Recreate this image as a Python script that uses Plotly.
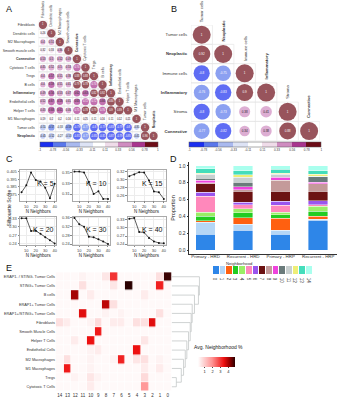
import numpy as np
import plotly.graph_objects as go

W, H = 339, 400
def xd(a, b): return [a / W, b / W]
def yd(top, bot): return [1 - bot / H, 1 - top / H]

# ---------------- DATA ----------------
A_rows = ["Fibroblasts", "Dendritic cells", "M2 Macrophages", "Smooth muscle cells", "Connective",
          "Cytotoxic T cells", "Tregs", "B cells", "Inflammatory", "Endothelial cells",
          "Helper T cells", "M1 Macrophages", "Tumor cells", "Neoplastic"]
A_corr = [
    [1],
    [0.26, 1],
    [0.40, 0.51, 1],
    [0.32, 0.33, 0.36, 1],
    [0.53, 0.50, 0.52, 0.49, 1],
    [0.45, 0.52, 0.50, 0.53, 0.74, 1],
    [0.40, 0.57, 0.51, 0.38, 0.88, 0.88, 1],
    [0.40, 0.59, 0.51, 0.41, 0.79, 0.78, 0.74, 1],
    [0.49, 0.56, 0.53, 0.47, 0.62, 0.63, 0.82, 0.92, 1],
    [0.52, 0.67, 0.58, 0.41, 0.63, 0.72, 0.72, 0.66, 0.84, 1],
    [0.43, 0.68, 0.61, 0.46, 0.75, 0.78, 0.79, 0.76, 0.90, 0.89, 1],
    [0.19, 0.20, 0.20, 0.16, 0.11, 0.25, 0.11, 0.16, 0.11, 0.12, 0.21, 1],
    [-0.51, -0.57, -0.33, -0.59, -0.79, -0.77, -0.80, -0.79, -0.83, -0.79, -0.80, -0.35, 1],
    [-0.45, -0.52, -0.27, -0.53, -0.81, -0.77, -0.85, -0.81, -0.87, -0.79, -0.85, -0.41, 0.96, 1],
]
B_rows = ["Tumor cells", "Neoplastic", "Immune cells", "Inflammatory", "Stroma", "Connective"]
B_corr = [
    [1],
    [0.92, 1],
    [-0.80, -0.75, 1],
    [-0.76, -0.83, 0.90, 1],
    [-0.80, -0.73, 0.38, 0.41, 1],
    [-0.77, -0.82, 0.34, 0.38, 0.88, 1],
]
bold_labels = {"Connective", "Inflammatory", "Neoplastic"}
corr_ticks = [-1, -0.78, -0.56, -0.33, -0.11, 0.11, 0.33, 0.56, 0.78, 1]
corr_colors = ["#1b2ff0", "#5a77eb", "#a9b9ef", "#dde3f5", "#ffffff",
               "#efdce9", "#cf8cc0", "#a8358e", "#6c0c17"]

n_neighbors = [5, 10, 15, 20, 25, 30, 35, 40]
K_values = [5, 10, 15, 20, 30, 40]
silhouette = {
    5: [0.378, 0.387, 0.404, 0.394, 0.392, 0.384, 0.370, 0.389],
    10: [0.3515, 0.3515, 0.350, 0.332, 0.310, 0.315, 0.301, 0.301],
    15: [0.309, 0.313, 0.319, 0.318, 0.298, 0.270, 0.268, 0.251],
    20: [0.330, 0.330, 0.285, 0.286, 0.275, 0.263, 0.252, 0.241],
    30: [0.360, 0.331, 0.320, 0.274, 0.271, 0.262, 0.252, 0.240],
    40: [0.334, 0.337, 0.285, 0.283, 0.263, 0.250, 0.244, 0.243],
}
sil_yticks = {
    5: [0.375, 0.385, 0.395, 0.405],
    10: [0.31, 0.33, 0.35],
    15: [0.26, 0.28, 0.30, 0.32],
    20: [0.24, 0.27, 0.30, 0.33],
    30: [0.24, 0.28, 0.32, 0.36],
    40: [0.24, 0.27, 0.30, 0.33],
}
sil_yrange = {5: [0.367, 0.407], 10: [0.298, 0.354], 15: [0.247, 0.324],
              20: [0.235, 0.335], 30: [0.235, 0.365], 40: [0.236, 0.341]}

D_groups = ["Primary - HRD", "Recurrent - HRD", "Primary - HRP", "Recurrent - HRP"]
neighborhoods = [str(i) for i in range(15)]
nb_colors = ["#2e86e8", "#b4d6f6", "#ff6010", "#22cc22", "#9aee66", "#ff88bb", "#9955ee",
             "#6b1212", "#c49a9a", "#ee44dd", "#6a7b7b", "#c8d0d0", "#eeee77", "#44ddbb", "#aaffee"]
D_props = {
    "Primary - HRD":   [0.190, 0.140, 0.020, 0.050, 0.050, 0.190, 0.046, 0.098, 0.012, 0.034, 0.020, 0.050, 0.014, 0.051, 0.035],
    "Recurrent - HRD": [0.235, 0.071, 0.078, 0.059, 0.047, 0.047, 0.032, 0.129, 0.020, 0.035, 0.051, 0.059, 0.031, 0.046, 0.060],
    "Primary - HRP":   [0.190, 0.045, 0.145, 0.040, 0.030, 0.080, 0.050, 0.118, 0.132, 0.033, 0.012, 0.025, 0.014, 0.046, 0.040],
    "Recurrent - HRP": [0.353, 0.012, 0.035, 0.059, 0.061, 0.017, 0.051, 0.110, 0.086, 0.020, 0.067, 0.004, 0.025, 0.040, 0.060],
}

E_rows = ["ERAP1- / STING- Tumor Cells", "STING+ Tumor Cells", "B cells", "ERAP1+ Tumor Cells",
          "ERAP1+/STING+ Tumor Cells", "Fibroblasts", "Smooth Muscle Cells", "Helper T Cells",
          "Endothelial Cells", "M2 Macrophages", "M1 Macrophages", "Tregs", "Cytotoxic T Cells"]
E_cols = ["14", "13", "12", "11", "10", "9", "8", "7", "6", "5", "4", "3", "2", "1", "0"]
E_vals = [
    [0.2, 0.2, 0.2, 0.3, 0.2, 0.2, 0.5, 3.0, 0.2, 0.2, 0.2, 0.2, 0.2, 0.6, 4.7],
    [0.2, 0.2, 0.2, 0.6, 0.2, 0.2, 0.2, 0.5, 0.2, 4.8, 0.2, 0.2, 0.2, 3.2, 0.2],
    [0.2, 0.2, 4.0, 0.2, 0.4, 0.2, 0.2, 0.2, 0.2, 0.2, 0.2, 0.4, 0.2, 0.2, 0.2],
    [0.2, 0.2, 0.2, 0.2, 0.2, 0.2, 3.8, 0.6, 0.2, 0.2, 0.2, 0.2, 0.2, 0.2, 0.2],
    [0.2, 0.2, 0.2, 3.5, 0.2, 0.2, 0.3, 0.2, 0.3, 0.2, 0.2, 0.2, 0.2, 0.6, 0.2],
    [0.6, 0.4, 0.2, 0.2, 0.3, 0.7, 0.2, 0.4, 0.4, 0.2, 0.6, 0.6, 3.5, 0.2, 0.2],
    [0.2, 0.2, 0.2, 0.2, 0.2, 3.3, 0.2, 0.2, 0.2, 0.2, 0.2, 0.2, 0.2, 0.2, 0.2],
    [0.2, 0.2, 0.4, 0.2, 3.4, 0.2, 0.2, 0.2, 0.2, 0.2, 0.2, 0.5, 0.2, 0.2, 0.2],
    [0.2, 0.2, 0.2, 0.2, 0.3, 0.4, 0.2, 0.2, 0.2, 0.2, 3.4, 0.2, 0.2, 0.2, 0.2],
    [0.2, 0.6, 0.2, 0.2, 0.3, 0.2, 0.2, 0.3, 3.2, 0.2, 0.5, 0.6, 0.2, 0.3, 0.2],
    [0.2, 3.3, 0.2, 0.2, 0.3, 0.2, 0.2, 0.2, 0.2, 0.2, 0.2, 0.4, 0.2, 0.4, 0.2],
    [0.2, 0.2, 0.3, 0.2, 0.5, 0.3, 0.2, 0.2, 0.2, 0.2, 0.2, 0.7, 0.2, 0.2, 0.2],
    [0.2, 0.2, 0.2, 0.2, 0.4, 0.2, 0.2, 0.2, 0.2, 0.2, 0.2, 1.8, 0.2, 0.2, 0.2],
]
# caterpillar dendrogram merge heights (bottom pair first)
dend_heights = [4.7, 9.7, 12.0, 13.7, 15.3, 17.0, 18.7, 19.7, 20.7, 23.0, 27.0, 28.0]

# ---------------- FIGURE ----------------
FONT = "Liberation Sans"
fig = go.Figure()
layout = dict(width=W, height=H, margin=dict(l=0, r=0, t=0, b=0), paper_bgcolor="white",
              plot_bgcolor="white", showlegend=False, barmode="stack",
              font=dict(family=FONT, color="#222"))
annotations = []

def fmt(v):
    return f"{v:.2f}".rstrip("0").rstrip(".")

cs = []
for i, c in enumerate(corr_colors):
    cs.append([(corr_ticks[i] + 1) / 2, c])
    cs.append([(corr_ticks[i + 1] + 1) / 2, c])

def grid_lines(n):
    gx, gy = [], []
    for i in range(n):
        gx += [-0.5, i + 0.5, None, -0.5, i + 0.5, None]
        gy += [i - 0.5, i - 0.5, None, i + 0.5, i + 0.5, None]
        for j in range(i + 2):
            gx += [j - 0.5, j - 0.5, None]
            gy += [i - 0.5, i + 0.5, None]
    return gx, gy

def corr_panel(rows, corr, ax, maxd, txtsize, labsize, xdom, ydom, cb_x, cb_len):
    n = len(rows)
    xs, ys, vals = [], [], []
    for i, r in enumerate(corr):
        for j, v in enumerate(r):
            xs.append(j); ys.append(i); vals.append(v)
    gx, gy = grid_lines(n)
    key = "" if ax == 1 else str(ax)
    xa, ya = "x" + key, "y" + key
    fig.add_trace(go.Scatter(x=gx, y=gy, mode="lines", line=dict(color="#e2e2e2", width=0.6),
                             xaxis=xa, yaxis=ya, hoverinfo="skip"))
    fig.add_trace(go.Scatter(
        x=xs, y=ys, mode="markers+text", xaxis=xa, yaxis=ya,
        marker=dict(size=[maxd * np.sqrt(abs(v)) for v in vals], color=vals, colorscale=cs,
                    cmin=-1, cmax=1, line=dict(width=0), showscale=True,
                    colorbar=dict(orientation="h", x=cb_x / W, xanchor="center", y=1 - 141 / H,
                                  yanchor="top", len=cb_len, lenmode="pixels", thickness=5,
                                  xpad=0, ypad=0, tickvals=corr_ticks, ticktext=[str(t) for t in corr_ticks],
                                  tickfont=dict(size=3, color="#333"), outlinewidth=0.5,
                                  outlinecolor="#555", ticks="")),
        text=[fmt(v) for v in vals], textposition="middle center",
        textfont=dict(size=txtsize, color=["white" if abs(v) > 0.7 else "#222" for v in vals])))
    ticktext = [f"<b>{r}</b>" if r in bold_labels else r for r in rows]
    layout["xaxis" + key] = dict(domain=xdom, anchor=ya, range=[-0.5, n - 0.5], visible=False)
    layout["yaxis" + key] = dict(domain=ydom, anchor=xa, range=[n - 0.5, -0.5], tickvals=list(range(n)),
                                 ticktext=ticktext, tickfont=dict(size=labsize, color="#333"),
                                 showgrid=False, zeroline=False, ticks="outside", ticklen=2,
                                 tickcolor="rgba(0,0,0,0)", showline=False)
    for j, r in enumerate(rows):
        annotations.append(dict(x=j, y=j - 0.5, xref=xa, yref=ya, text=ticktext[j], showarrow=False,
                                textangle=-90, xanchor="center", yanchor="bottom", yshift=1,
                                font=dict(size=labsize, color="#333")))

corr_panel(A_rows, A_corr, 1, 8.4, 2.6, 3.5, xd(38.7, 158.3), yd(18.7, 139.3), 99, 118)
corr_panel(B_rows, B_corr, 2, 18, 3, 4.2, xd(191.5, 320.8), yd(23.3, 139.7), 256, 132)

# ---------------- Panel C ----------------
cx = [(20, 56.5), (73, 110), (128, 166)]
cy = [(169.5, 200), (216.5, 245)]
for p, k in enumerate(K_values):
    n = 3 + p
    r, c = divmod(p, 3)
    fig.add_trace(go.Scatter(x=n_neighbors, y=silhouette[k], mode="lines+markers",
                             line=dict(color="#333", width=0.8), marker=dict(size=2, color="#111"),
                             xaxis=f"x{n}", yaxis=f"y{n}"))
    layout[f"xaxis{n}"] = dict(domain=xd(*cx[c]), anchor=f"y{n}", range=[3.25, 41.75],
                               tickvals=[10, 20, 30, 40], tickfont=dict(size=4, color="#444"),
                               showline=True, mirror=True, linecolor="#aaa", linewidth=0.6,
                               gridcolor="#ececec", gridwidth=0.5, zeroline=False,
                               ticks="outside", ticklen=1.5, tickcolor="#888",
                               title=dict(text="N Neighbors", font=dict(size=4.5), standoff=1))
    yt = sil_yticks[k]
    dec = 3 if k == 5 else 2
    layout[f"yaxis{n}"] = dict(domain=yd(*cy[r]), anchor=f"x{n}", range=sil_yrange[k],
                               tickvals=yt, ticktext=[f"{t:.{dec}f}" for t in yt],
                               tickfont=dict(size=4, color="#444"), showline=True, mirror=True,
                               linecolor="#aaa", linewidth=0.6, gridcolor="#ececec", gridwidth=0.5,
                               zeroline=False, ticks="outside", ticklen=1.5, tickcolor="#888")
    annotations.append(dict(x=0.98, y=0.55, xref=f"x{n} domain", yref=f"y{n} domain",
                            text=f"K = {k}", showarrow=False, xanchor="right", yanchor="middle",
                            font=dict(size=7, color="#111")))
annotations.append(dict(x=4 / W, y=1 - 207 / H, xref="paper", yref="paper", text="Silhouette Score",
                        showarrow=False, textangle=-90, font=dict(size=5)))

# ---------------- Panel D ----------------
for k in range(15):
    fig.add_trace(go.Bar(x=list(range(len(D_groups))), y=[D_props[g][k] for g in D_groups],
                         width=0.52, marker=dict(color=nb_colors[k], line=dict(color="white", width=0.4)),
                         xaxis="x9", yaxis="y9"))
layout["xaxis9"] = dict(domain=xd(190, 338), anchor="y9", range=[-0.43, 3.5],
                        tickvals=list(range(4)), ticktext=D_groups, tickfont=dict(size=4.4, color="#333"),
                        showline=True, linecolor="#333", linewidth=0.6, showgrid=False, zeroline=False,
                        ticks="", ticklabelstandoff=-2)
layout["yaxis9"] = dict(domain=yd(160.75, 254.25), anchor="x9", range=[-0.05, 1.05],
                        tickvals=[0, 0.2, 0.4, 0.6, 0.8, 1.0],
                        ticktext=["0.0", "0.2", "0.4", "0.6", "0.8", "1.0"],
                        tickfont=dict(size=5, color="#333"), showline=True, linecolor="#333",
                        linewidth=0.6, showgrid=False, zeroline=False, ticks="outside", ticklen=2,
                        tickcolor="#333", tickwidth=0.5,
                        title=dict(text="Proportion", font=dict(size=5.5), standoff=2))
# legend swatches
fig.add_trace(go.Bar(x=list(range(15)), y=[1] * 15, width=0.85, marker=dict(color=nb_colors, line=dict(width=0)),
                     xaxis="x12", yaxis="y12"))
layout["xaxis12"] = dict(domain=xd(213, 313), anchor="y12", range=[-0.5, 14.5], tickvals=list(range(15)),
                         ticktext=neighborhoods, tickfont=dict(size=4.5, color="#333"), showgrid=False,
                         zeroline=False, showline=False, ticks="")
layout["yaxis12"] = dict(domain=yd(266, 274.5), anchor="x12", range=[0, 1], visible=False)
annotations.append(dict(x=256 / W, y=1 - 263 / H, xref="paper", yref="paper", text="Neighborhood",
                        showarrow=False, font=dict(size=4.2, color="#333")))

# ---------------- Panel E ----------------
fig.add_trace(go.Heatmap(
    z=E_vals, x=list(range(15)), y=list(range(len(E_rows))), xaxis="x10", yaxis="y10",
    colorscale=[[0, "#ffffff"], [0.1, "#fde2e2"], [0.38, "#ff9494"], [0.7, "#ee1111"],
                [0.85, "#990000"], [1, "#2a0000"]],
    zmin=0.1, zmax=4.8, xgap=0.6, ygap=0.6,
    colorbar=dict(orientation="h", x=216.7 / W, xanchor="center", y=1 - 357.5 / H, yanchor="top",
                  len=37, lenmode="pixels", thickness=10, xpad=0, ypad=0,
                  tickvals=[1, 2, 3, 4], tickfont=dict(size=4), outlinewidth=0, ticks="outside",
                  ticklen=1.5)))
annotations.append(dict(x=219.5 / W, y=1 - 352.7 / H, xref="paper", yref="paper",
                        text="Avg. Neighborhood %", showarrow=False, font=dict(size=5, color="#222")))
layout["xaxis10"] = dict(domain=xd(56.1, 172.2), anchor="y10", range=[-0.5, 14.5], tickvals=list(range(15)),
                         ticktext=E_cols, tickfont=dict(size=4.5, color="#333"), showgrid=False,
                         zeroline=False, ticks="")
layout["yaxis10"] = dict(domain=yd(272.2, 392.3), anchor="x10", range=[len(E_rows) - 0.5, -0.5],
                         tickvals=list(range(len(E_rows))), ticktext=E_rows,
                         tickfont=dict(size=3.8, color="#333"), showgrid=False, zeroline=False, ticks="")
# dendrogram
n = len(E_rows)
dxs, dys = [], []
node_y, node_h = n - 1, 0.0
for k, h in enumerate(dend_heights):
    r = n - 2 - k
    dxs += [node_h, h, None, 0, h, None, h, h, None]
    dys += [node_y, node_y, None, r, r, None, r, node_y, None]
    node_y, node_h = (node_y + r) / 2, h
fig.add_trace(go.Scatter(x=dxs, y=dys, mode="lines", line=dict(color="#c4c8c8", width=0.8),
                         xaxis="x11", yaxis="y11", hoverinfo="skip"))
layout["xaxis11"] = dict(domain=xd(172.2, 202), anchor="y11", range=[0, 30], visible=False)
layout["yaxis11"] = dict(domain=yd(272.2, 392.3), anchor="x11", range=[n - 0.5, -0.5], visible=False)

# panel letters
for letter, (px, py) in {"A": (4, 7), "B": (170, 7), "C": (4, 158), "D": (168, 158), "E": (4, 268)}.items():
    annotations.append(dict(x=px / W, y=1 - py / H, xref="paper", yref="paper", text=letter,
                            showarrow=False, xanchor="left", yanchor="middle",
                            font=dict(size=9, color="#111")))

layout["annotations"] = annotations
fig.update_layout(**layout)
fig.write_html("out.html")
